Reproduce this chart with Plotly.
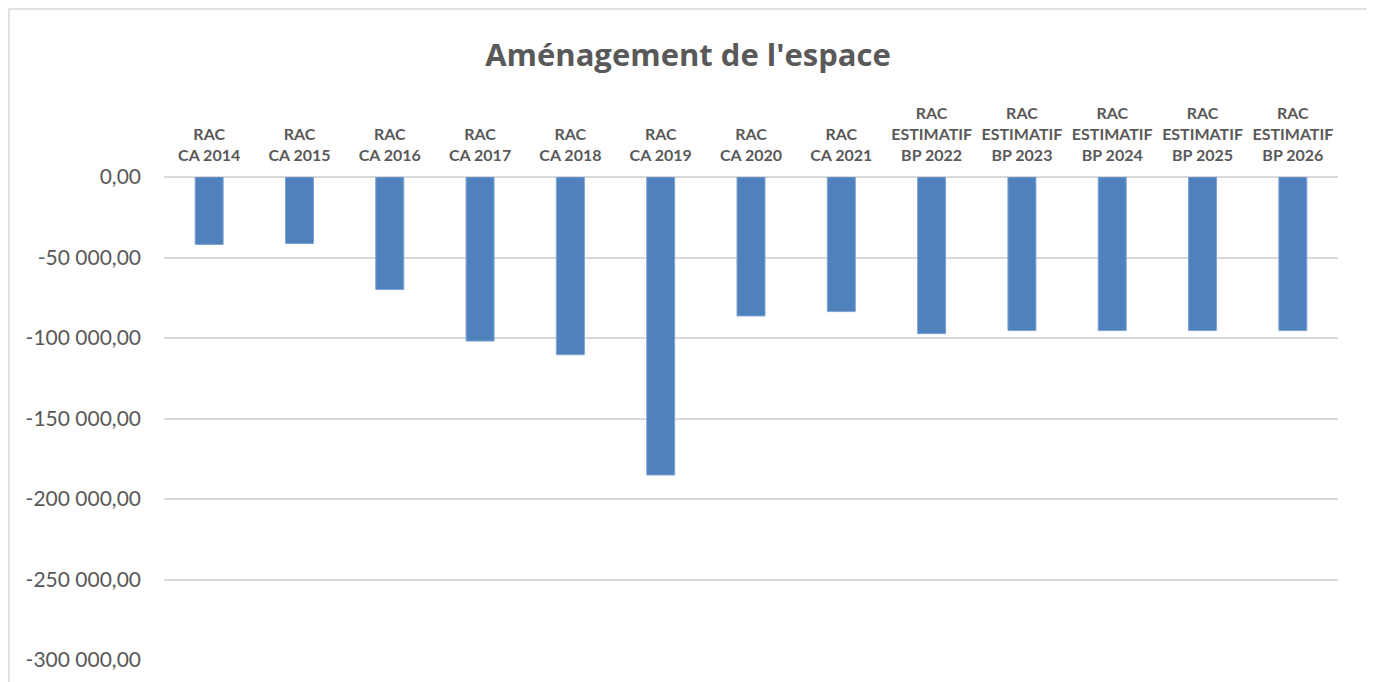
import plotly.graph_objects as go

categories = [
    "RAC<br>CA 2014", "RAC<br>CA 2015", "RAC<br>CA 2016", "RAC<br>CA 2017",
    "RAC<br>CA 2018", "RAC<br>CA 2019", "RAC<br>CA 2020", "RAC<br>CA 2021",
    "RAC<br>ESTIMATIF<br>BP 2022", "RAC<br>ESTIMATIF<br>BP 2023",
    "RAC<br>ESTIMATIF<br>BP 2024", "RAC<br>ESTIMATIF<br>BP 2025",
    "RAC<br>ESTIMATIF<br>BP 2026",
]
values = [
    -41900, -41300, -69900, -101900, -110400, -185100, -86300,
    -83600, -97300, -95400, -95400, -95400, -95400,
]
y_ticks = [0, -50000, -100000, -150000, -200000, -250000, -300000]


def fr_num(v):
    s = f"{abs(v):,.2f}".replace(",", " ").replace(".", ",")
    return ("-" if v < 0 else "") + s


# the page puts the figure 8px in from the top-left corner
OFF = 8
W, H = 1375 - OFF, 682 - OFF
# plot area in page pixels
L, R, T, B = 164, 1338, 177, 660

fig = go.Figure()
fig.add_trace(go.Bar(
    x=categories, y=values,
    marker=dict(color="#4F81BD", line=dict(color="#7FA3D3", width=1)),
    width=0.31,
))

grey = "#595959"
fig.update_layout(
    width=W, height=H,
    margin=dict(l=L - OFF, r=W - (R - OFF), t=T - OFF, b=H - (B - OFF)),
    paper_bgcolor="white", plot_bgcolor="white",
    showlegend=False,
    title=dict(text="<b>Aménagement de l'espace</b>", x=(688 - OFF) / W, xanchor="center",
               y=1 - (55 - OFF) / H, yanchor="middle",
               font=dict(family="Open Sans", size=31, color=grey)),
    font=dict(family="Lato", color=grey),
    xaxis=dict(side="top", showgrid=False, showline=False, zeroline=False,
               tickvals=categories,
               ticktext=["<b>" + c + "</b>" for c in categories],
               tickfont=dict(size=16, color=grey, family="Lato"),
               ticklabelstandoff=12, tickangle=0),
    yaxis=dict(range=[-300000, 0], tickvals=y_ticks,
               ticktext=[fr_num(v) for v in y_ticks],
               showgrid=True, gridcolor="#D9D9D9", gridwidth=1.5,
               zeroline=True, zerolinecolor="#D9D9D9", zerolinewidth=1.5,
               showline=False,
               tickfont=dict(size=21, color=grey, family="Lato"),
               ticklabelstandoff=22),
)


# outer chart border
def px_x(p):
    return (p - L) / (R - L)


def px_y(p):
    return (B - p) / (B - T)


fig.add_shape(type="rect", xref="paper", yref="paper",
              x0=px_x(9), x1=px_x(1368), y0=px_y(700), y1=px_y(9),
              line=dict(color="#D9D9D9", width=1.5), fillcolor="rgba(0,0,0,0)",
              layer="below")

fig.write_html("out.html")
